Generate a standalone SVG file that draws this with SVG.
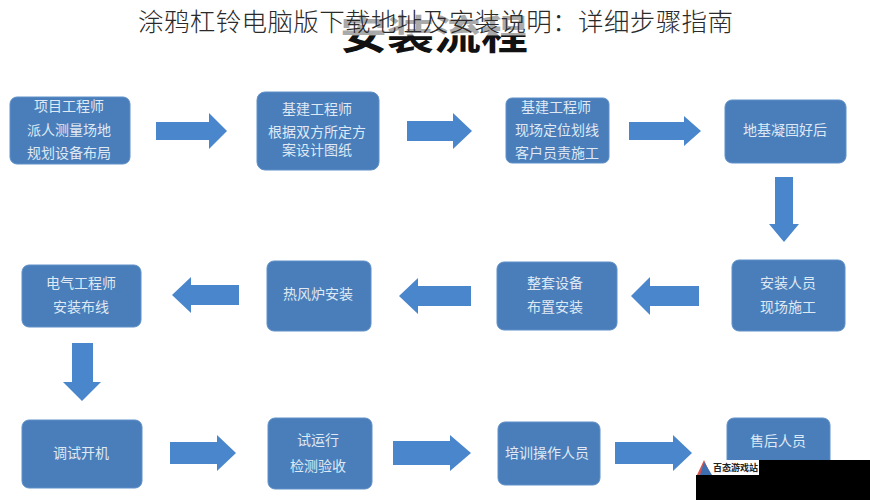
<svg xmlns="http://www.w3.org/2000/svg" width="870" height="500" viewBox="0 0 870 500">
<style>
text{font-family:"Noto Sans CJK SC","Liberation Sans",sans-serif}
.box{fill:#4a7ebb;stroke:#5f90c8;stroke-width:1}
.lbl{fill:#dfe9f4;font-size:14px;text-anchor:middle}
.arr{fill:#4a86cc}
.title{fill:#2a2a2a;font-size:25.5px;font-weight:300}
</style>
<defs>
<linearGradient id="hg" x1="0" y1="0" x2="0" y2="1"><stop offset="0" stop-color="#aaa"/><stop offset="0.55" stop-color="#aaa"/><stop offset="0.58" stop-color="#111"/><stop offset="1" stop-color="#111"/></linearGradient>
</defs>
<rect width="870" height="500" fill="#fff"/>
<text transform="translate(434,49) scale(1,.85)" font-size="47" font-weight="700" text-anchor="middle" fill="url(#hg)">安装流程</text>
<text class="title" x="138" y="31" textLength="595">涂鸦杠铃电脑版下载地址及安装说明：详细步骤指南</text>
<g id="connectors">
<path class="arr" d="M156 122H209V113L227 131L209 149V140H156Z"/>
<path class="arr" d="M407 121H453V113L472 131L453 149V141H407Z"/>
<path class="arr" d="M629 122H684V116L701 131L684 146V140H629Z"/>
<path class="arr" d="M775 177H793V224H799L784 242L769 224H775Z"/>
<path class="arr" d="M699 286V306H650V315L631 296L650 277V286Z"/>
<path class="arr" d="M471 286V306H418V314L399 296L418 278V286Z"/>
<path class="arr" d="M239 285V305H191V313L172 295L191 277V285Z"/>
<path class="arr" d="M72 343H93V382H101L82 401L63 382H72Z"/>
<path class="arr" d="M170 442H217V435L236 453L217 471V464H170Z"/>
<path class="arr" d="M393 441H450V435L471 453L450 471V465H393Z"/>
<path class="arr" d="M615 442H673V435L692 453L673 471V464H615Z"/>
</g>
<g id="n1"><rect class="box" x="10" y="97" width="120" height="67" rx="7"/><text class="lbl" x="69" y="111">项目工程师</text><text class="lbl" x="69" y="135">派人测量场地</text><text class="lbl" x="69" y="158">规划设备布局</text></g>
<g id="n2"><rect class="box" x="257" y="92" width="122" height="78" rx="8"/><text class="lbl" x="317" y="114">基建工程师</text><text class="lbl" x="317" y="137">根据双方所定方</text><text class="lbl" x="317" y="155">案设计图纸</text></g>
<g id="n3"><rect class="box" x="506" y="98" width="103" height="65" rx="6"/><text class="lbl" x="556" y="112">基建工程师</text><text class="lbl" x="557" y="135">现场定位划线</text><text class="lbl" x="557" y="158">客户员责施工</text></g>
<g id="n4"><rect class="box" x="725" y="100" width="121" height="63" rx="7"/><text class="lbl" x="785" y="135">地基凝固好后</text></g>
<g id="n5"><rect class="box" x="732" y="260" width="113" height="71" rx="7"/><text class="lbl" x="788" y="288">安装人员</text><text class="lbl" x="788" y="312">现场施工</text></g>
<g id="n6"><rect class="box" x="497" y="262" width="120" height="68" rx="7"/><text class="lbl" x="555" y="288">整套设备</text><text class="lbl" x="555" y="312">布置安装</text></g>
<g id="n7"><rect class="box" x="267" y="261" width="104" height="70" rx="7"/><text class="lbl" x="318" y="299">热风炉安装</text></g>
<g id="n8"><rect class="box" x="22" y="265" width="119" height="62" rx="7"/><text class="lbl" x="81" y="288">电气工程师</text><text class="lbl" x="81" y="312">安装布线</text></g>
<g id="n9"><rect class="box" x="22" y="420" width="120" height="68" rx="7"/><text class="lbl" x="81" y="458">调试开机</text></g>
<g id="n10"><rect class="box" x="268" y="418" width="104" height="71" rx="7"/><text class="lbl" x="318" y="445">试运行</text><text class="lbl" x="318" y="471">检测验收</text></g>
<g id="n11"><rect class="box" x="498" y="422" width="102" height="63" rx="7"/><text class="lbl" x="547" y="458">培训操作人员</text></g>
<g id="n12"><rect class="box" x="727" y="418" width="103" height="70" rx="7"/><text class="lbl" x="778" y="446">售后人员</text></g>
<rect x="759" y="460" width="111" height="40" fill="#000"/>
<rect x="696" y="475" width="174" height="25" fill="#000"/>
<rect x="696" y="460" width="63" height="15" fill="#fff"/>
<path d="M697 475L704 460L711 475Z" fill="#d9534f"/>
<path d="M704 462L712 475H700Z" fill="#3d6fb0"/>
<text x="713" y="471" font-size="9" font-weight="700" fill="#222">百态游戏站</text>
</svg>
